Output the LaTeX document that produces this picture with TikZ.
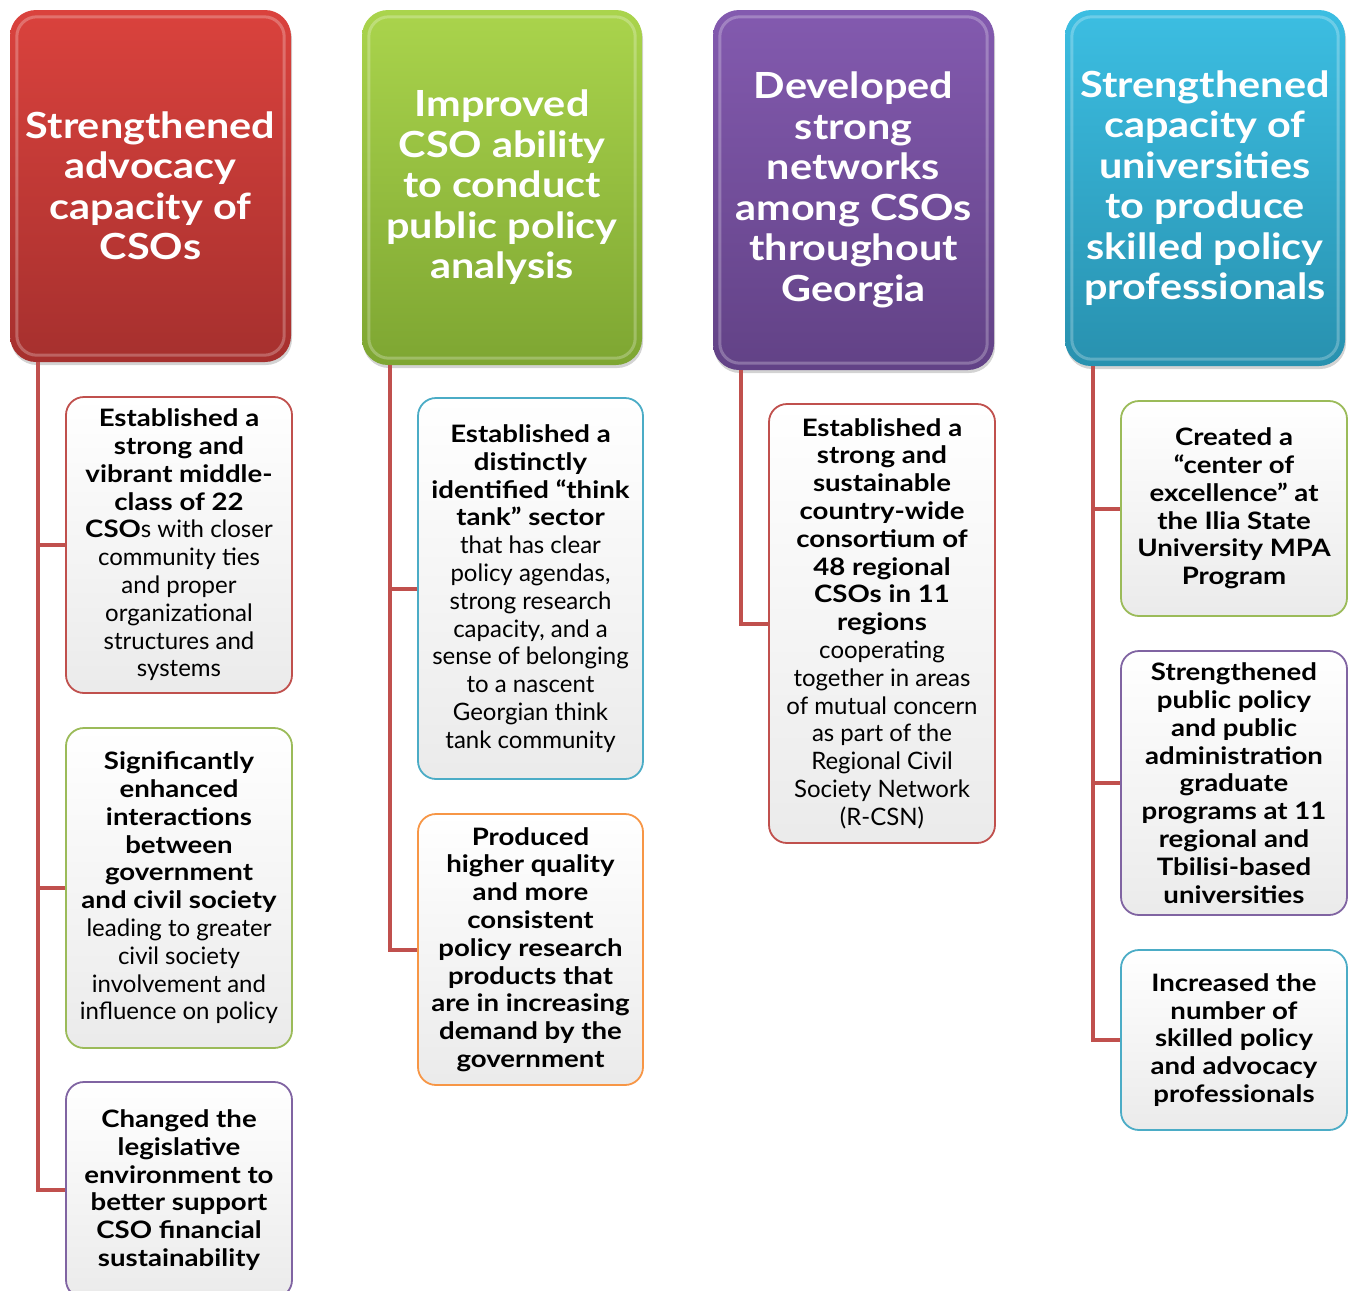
\documentclass[tikz,border=0pt]{standalone}
\usepackage{fontspec}
\setmainfont{Lato}[BoldFeatures={FakeStretch=1.15}]
\usetikzlibrary{shadows}

\definecolor{linkred}{HTML}{C0504D}
\definecolor{edgered}{HTML}{C0504D}
\definecolor{edgegreen}{HTML}{9BBB59}
\definecolor{edgepurple}{HTML}{8064A2}
\definecolor{edgeblue}{HTML}{4BACC6}
\definecolor{edgeorange}{HTML}{F79646}

\begin{document}
\begin{tikzpicture}[x=1pt,y=-1pt,
    head/.style={rounded corners=26pt, text=white, align=center, inner sep=0pt,
        font=\fontsize{36}{40.5}\selectfont\bfseries,
        drop shadow={opacity=0.35, shadow xshift=1pt, shadow yshift=-3pt}},
    leaf/.style={rounded corners=18pt, line width=1.8pt, align=center, inner sep=0pt,
        top color=white, bottom color=black!8, font=\fontsize{24}{27.8}\selectfont},
    boldleaf/.style={leaf, font=\fontsize{24}{27.8}\selectfont\bfseries},
    link/.style={draw=linkred, line width=4pt}]
    \useasboundingbox (0,0) rectangle (1353,1291);

    % outcome headers
    \node[head, top color={rgb,255:red,218;green,66;blue,61}, bottom color={rgb,255:red,166;green,48;blue,46},
        minimum width=281, minimum height=352] (h1) at (150.5,186)
        {Strengthened\\advocacy\\capacity of\\CSOs};
    \node[head, top color={rgb,255:red,170;green,212;blue,76}, bottom color={rgb,255:red,126;green,166;blue,50},
        minimum width=280, minimum height=355] (h2) at (502,187.5)
        {Improved\\CSO ability\\to conduct\\public policy\\analysis};
    \node[head, top color={rgb,255:red,131;green,90;blue,175}, bottom color={rgb,255:red,98;green,66;blue,134},
        minimum width=281, minimum height=360] (h3) at (853.5,190)
        {Developed\\strong\\networks\\among CSOs\\throughout\\Georgia};
    \node[head, top color={rgb,255:red,60;green,190;blue,226}, bottom color={rgb,255:red,40;green,145;blue,175},
        minimum width=280, minimum height=356] (h4) at (1205,188)
        {Strengthened\\capacity of\\universities\\to produce\\skilled policy\\professionals};
    \foreach \h in {h1,h2,h3,h4}
        \draw[white, opacity=0.25, line width=3pt, rounded corners=20pt]
            ([shift={(7pt,-7pt)}]\h.north west) rectangle ([shift={(-7pt,7pt)}]\h.south east);

    % results
    \node[leaf, draw=edgered, minimum width=226, minimum height=296] (c11) at (179,545)
        {\textbf{Established a}\\\textbf{strong and}\\\textbf{vibrant middle-}\\\textbf{class of 22}\\\textbf{CSO}s with closer\\community ties\\and proper\\organizational\\structures and\\systems};
    \node[leaf, draw=edgegreen, minimum width=226, minimum height=320] (c12) at (179,888)
        {\textbf{Significantly}\\\textbf{enhanced}\\\textbf{interactions}\\\textbf{between}\\\textbf{government}\\\textbf{and civil society}\\leading to greater\\civil society\\involvement and\\influence on policy};
    \node[boldleaf, draw=edgepurple, minimum width=226, minimum height=216] (c13) at (179,1190)
        {Changed the\\legislative\\environment to\\better support\\CSO financial\\sustainability};

    \node[leaf, draw=edgeblue, minimum width=225, minimum height=381] (c21) at (530.5,588.5)
        {\textbf{Established a}\\\textbf{distinctly}\\\textbf{identified “think}\\\textbf{tank” sector}\\that has clear\\policy agendas,\\strong research\\capacity, and a\\sense of belonging\\to a nascent\\Georgian think\\tank community};
    \node[boldleaf, draw=edgeorange, minimum width=225, minimum height=271] (c22) at (530.5,949.5)
        {Produced\\higher quality\\and more\\consistent\\policy research\\products that\\are in increasing\\demand by the\\government};

    \node[leaf, draw=edgered, minimum width=226, minimum height=439] (c31) at (882,623.5)
        {\textbf{Established a}\\\textbf{strong and}\\\textbf{sustainable}\\\textbf{country-wide}\\\textbf{consortium of}\\\textbf{48 regional}\\\textbf{CSOs in 11}\\\textbf{regions}\\cooperating\\together in areas\\of mutual concern\\as part of the\\Regional Civil\\Society Network\\(R-CSN)};

    \node[boldleaf, draw=edgegreen, minimum width=226, minimum height=215] (c41) at (1234,508.5)
        {Created a\\“center of\\excellence” at\\the Ilia State\\University MPA\\Program};
    \node[boldleaf, draw=edgepurple, minimum width=226, minimum height=264] (c42) at (1234,783)
        {Strengthened\\public policy\\and public\\administration\\graduate\\programs at 11\\regional and\\Tbilisi-based\\universities};
    \node[boldleaf, draw=edgeblue, minimum width=226, minimum height=180] (c43) at (1234,1040)
        {Increased the\\number of\\skilled policy\\and advocacy\\professionals};

    % connectors
    \coordinate (t1) at ([xshift=28pt]h1.south west);
    \coordinate (t2) at ([xshift=28pt]h2.south west);
    \coordinate (t3) at ([xshift=28pt]h3.south west);
    \coordinate (t4) at ([xshift=28pt]h4.south west);
    \draw[link] (t1) |- (c13.west);
    \draw[link] (t1 |- c11.west) -- (c11.west);
    \draw[link] (t1 |- c12.west) -- (c12.west);
    \draw[link] (t2) |- (c22.west);
    \draw[link] (t2 |- c21.west) -- (c21.west);
    \draw[link] (t3) |- (c31.west);
    \draw[link] (t4) |- (c43.west);
    \draw[link] (t4 |- c41.west) -- (c41.west);
    \draw[link] (t4 |- c42.west) -- (c42.west);
\end{tikzpicture}
\end{document}
